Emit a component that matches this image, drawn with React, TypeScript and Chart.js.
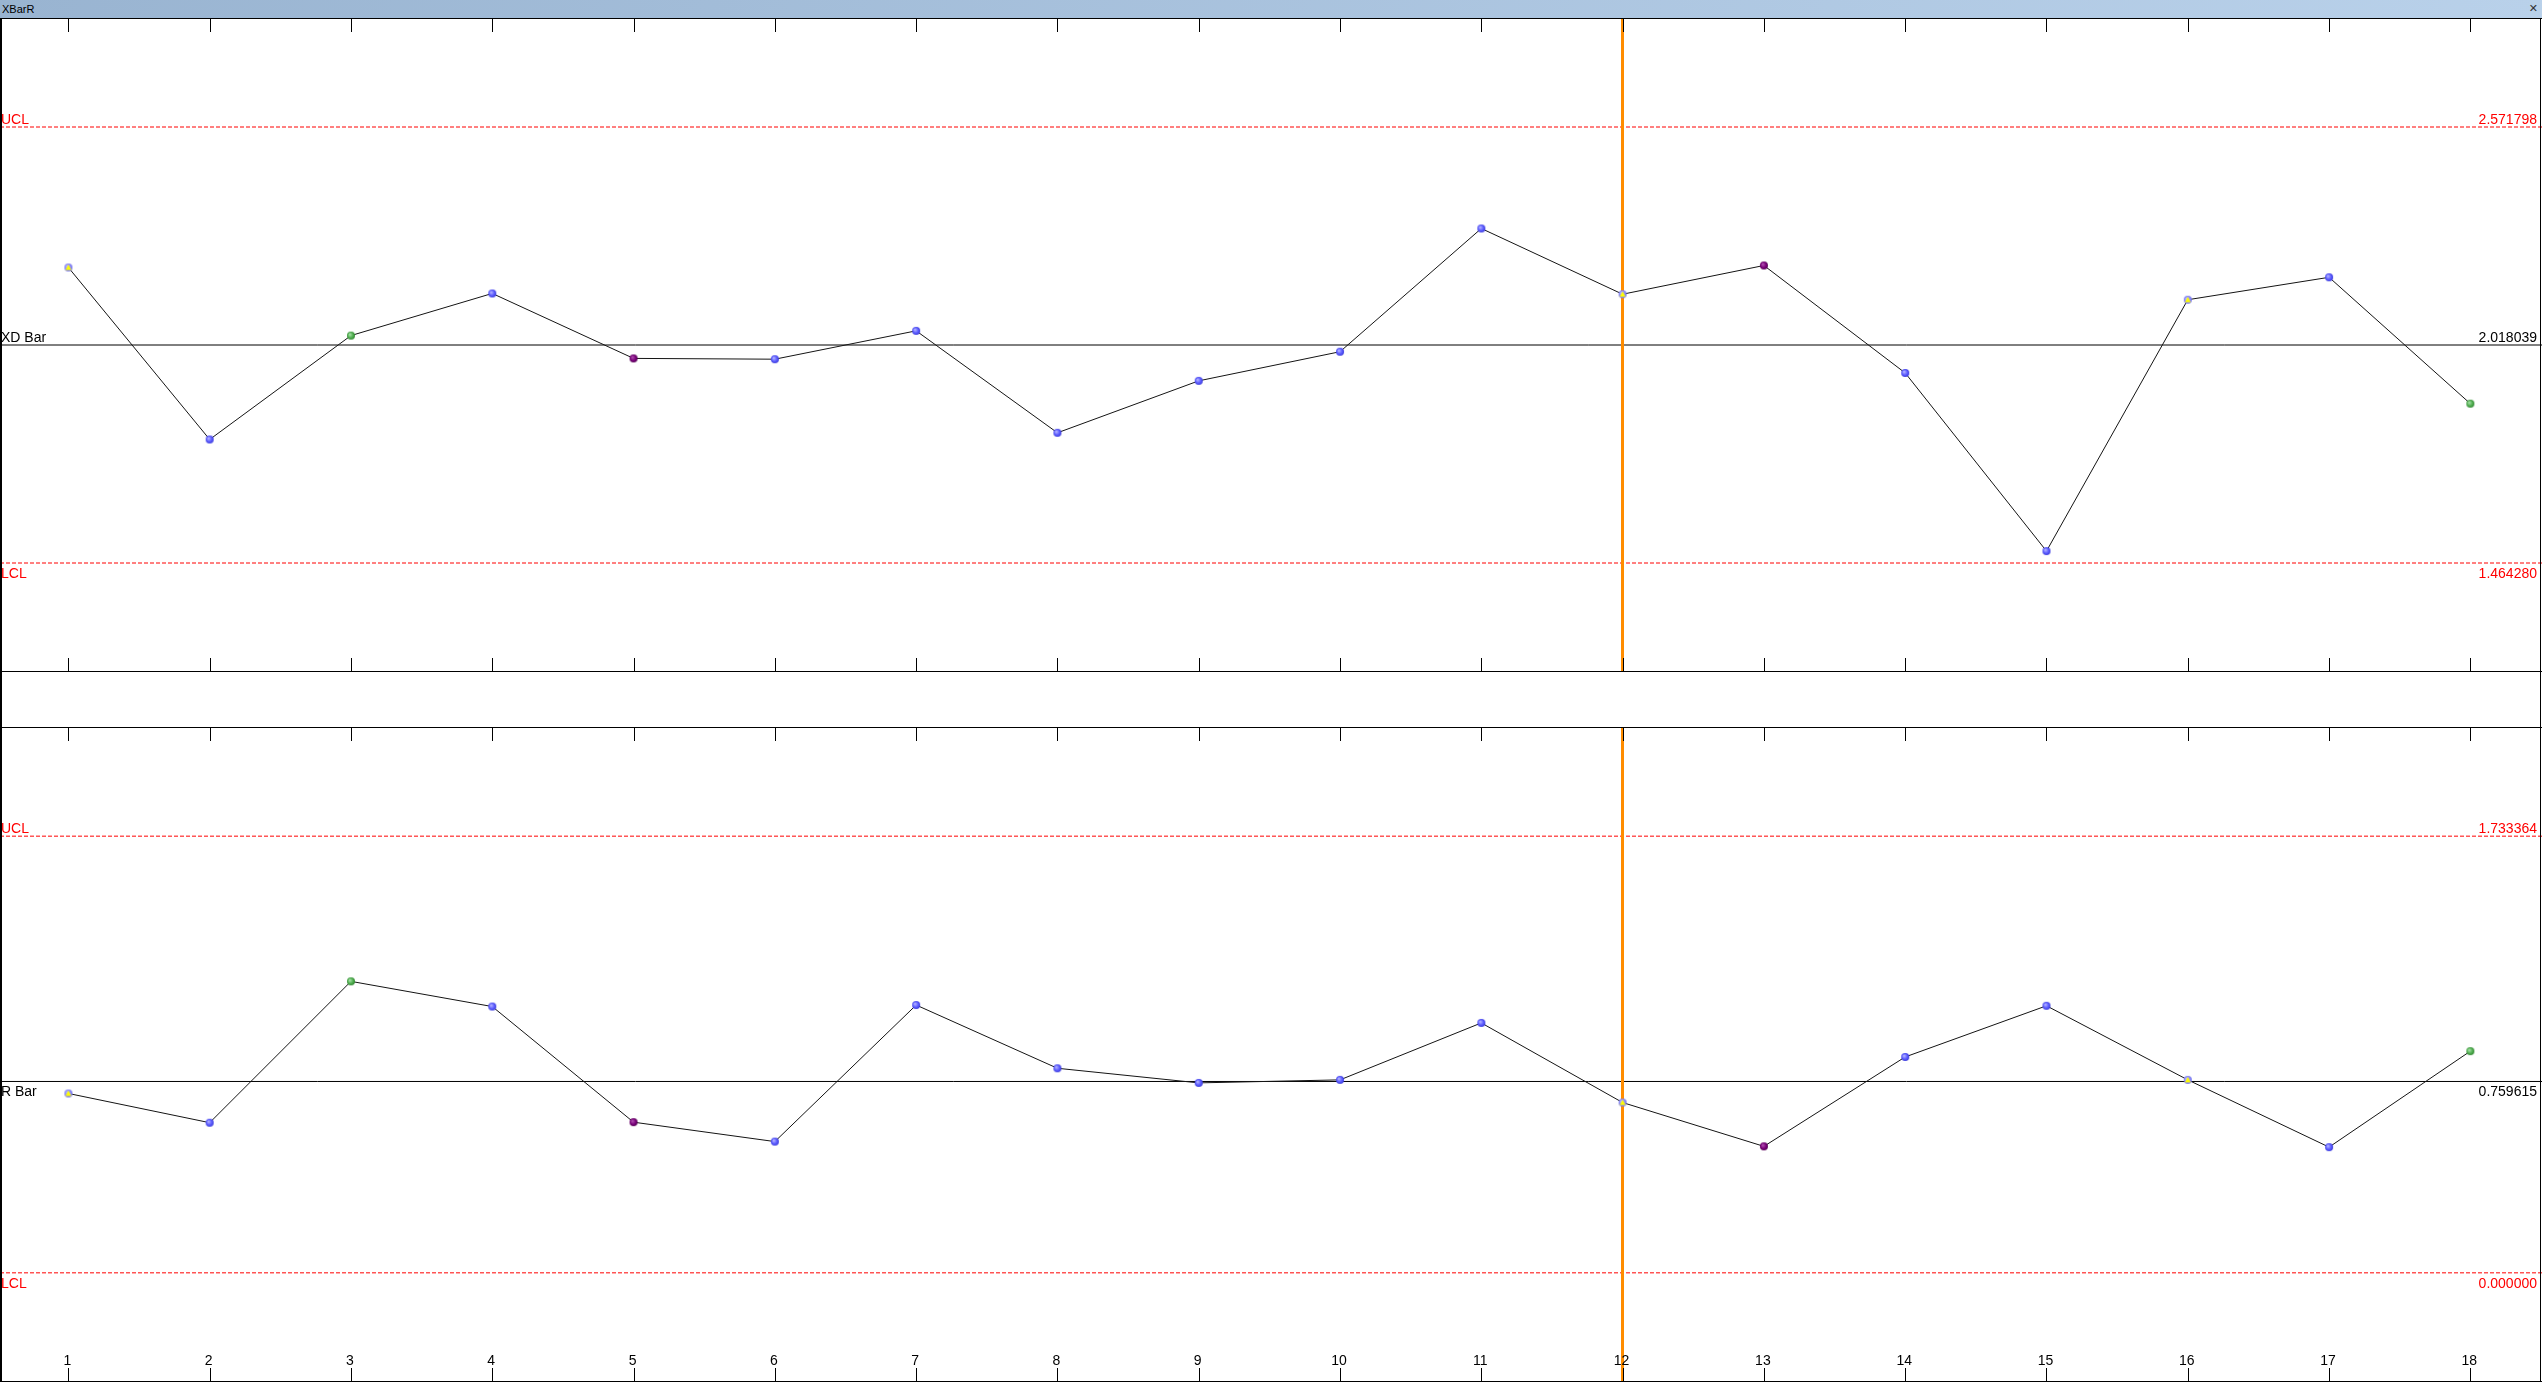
import React, { useEffect, useRef } from 'react';
import { Chart, registerables } from 'chart.js';

Chart.register(...registerables);

// ---------- data ----------
const subgroups = [1, 2, 3, 4, 5, 6, 7, 8, 9, 10, 11, 12, 13, 14, 15, 16, 17, 18];
const xbarValues = [2.215, 1.778, 2.042, 2.149, 1.984, 1.982, 2.054, 1.795, 1.927, 2.001, 2.314, 2.147, 2.220, 1.947, 1.4945, 2.133, 2.190, 1.869];
const rangeValues = [0.712, 0.596, 1.157, 1.057, 0.598, 0.521, 1.063, 0.812, 0.754, 0.766, 0.992, 0.676, 0.502, 0.857, 1.060, 0.766, 0.499, 0.880];
const xbarMarkers = ['flag', 'blue', 'green', 'blue', 'purple', 'blue', 'blue', 'blue', 'blue', 'blue', 'blue', 'flag', 'purple', 'blue', 'blue', 'flag', 'blue', 'green'];
const rangeMarkers = ['flag', 'blue', 'green', 'blue', 'purple', 'blue', 'blue', 'blue', 'blue', 'blue', 'blue', 'flag', 'purple', 'blue', 'blue', 'flag', 'blue', 'green'];
const xbarLimits = [2.571798, 2.018039, 1.46428]; // UCL, CL, LCL
const rangeLimits = [1.733364, 0.759615, 0.0];
const xbarLimitNames = ['UCL', 'XD Bar', 'LCL'];
const rangeLimitNames = ['UCL', 'R Bar', 'LCL'];
const xbarLabelSides = ['above', 'above', 'below'];
const rangeLabelSides = ['above', 'below', 'below'];
const highlightSubgroup = 12;
const windowTitle = 'XBarR';

const X_MIN = 0.516;
const X_MAX = 18.507;
const W = 2542;
const FONT = '14px "Liberation Sans", Arial, sans-serif';

function makeMarker(kind: string): HTMLCanvasElement {
  const c = document.createElement('canvas');
  c.width = 10;
  c.height = 10;
  const ctx = c.getContext('2d')!;
  const colors: Record<string, string[]> = {
    blue: ['#b4b4ff', '#5a5aff', '#3535d0'],
    green: ['#a8e0a8', '#4fae4f', '#2f7f2f'],
    purple: ['#b050b0', '#7a007a', '#4a004a'],
    flag: ['#c0c0ff', '#8c8cff', '#6a6ae0'],
  };
  const [hi, mid, lo] = colors[kind] || colors.blue;
  const g = ctx.createRadialGradient(3.8, 3.8, 0.3, 5, 5, 4.6);
  g.addColorStop(0, hi);
  g.addColorStop(0.55, mid);
  g.addColorStop(1, lo);
  ctx.fillStyle = g;
  ctx.beginPath();
  ctx.arc(5, 5, 4, 0, Math.PI * 2);
  ctx.fill();
  if (kind === 'flag') {
    ctx.fillStyle = '#ffff00';
    ctx.beginPath();
    ctx.moveTo(5, 2);
    ctx.lineTo(8, 7.6);
    ctx.lineTo(2, 7.6);
    ctx.closePath();
    ctx.fill();
  }
  return c;
}

type PanelProps = {
  values: number[];
  markers: string[];
  limits: number[];
  names: string[];
  sides: string[];
  height: number;
  showXLabels: boolean;
};

function Panel({ values, markers, limits, names, sides, height, showXLabels }: PanelProps) {
  const ref = useRef<HTMLCanvasElement | null>(null);

  useEffect(() => {
    if (!ref.current) return;
    const [ucl, , lcl] = limits;
    const mid = (ucl + lcl) / 2;
    const half = 0.75 * (ucl - lcl);
    const yMax = mid + half;
    const yMin = mid - half;
    const markerImgs = markers.map(makeMarker);

    const overlay = {
      id: 'spcOverlay',
      beforeDatasetDraw(chart: any, args: any) {
        if (args.index !== 0) return;
        const ctx = chart.ctx;
        const x = Math.floor(chart.scales.x.getPixelForValue(highlightSubgroup));
        ctx.save();
        ctx.fillStyle = '#ff8c00';
        ctx.fillRect(x - 1, 0, 3, chart.height);
        ctx.restore();
      },
      afterDraw(chart: any) {
        const ctx = chart.ctx;
        const h = chart.height;
        const xs = chart.scales.x;
        const ys = chart.scales.y;
        ctx.save();
        // borders
        ctx.fillStyle = '#000';
        ctx.fillRect(0, 0, 2, h);
        ctx.fillRect(2540, 0, 1, h);
        ctx.fillRect(0, 0, W, 1);
        ctx.fillRect(0, h - 1, W, 1);
        // ticks
        subgroups.forEach((s) => {
          const x = Math.round(xs.getPixelForValue(s));
          ctx.fillRect(x, 0, 1, 14);
          ctx.fillRect(x, h - 14, 1, 14);
        });
        // x labels
        if (showXLabels) {
          ctx.font = FONT;
          ctx.textAlign = 'center';
          ctx.textBaseline = 'alphabetic';
          subgroups.forEach((s) => {
            const x = xs.getPixelForValue(s);
            ctx.fillText(String(s), x - 1, h - 17);
          });
        }
        // limit labels
        ctx.font = FONT;
        ctx.textBaseline = 'alphabetic';
        limits.forEach((v, i) => {
          const y = ys.getPixelForValue(v);
          const base = sides[i] === 'above' ? y - 3 : y + 15;
          ctx.fillStyle = i === 1 ? '#000' : '#ff0000';
          ctx.textAlign = 'left';
          ctx.fillText(names[i], 1, base);
          ctx.textAlign = 'right';
          ctx.fillText(v.toFixed(6), 2537, base);
        });
        ctx.restore();
      },
    };

    const limitDataset = (v: number, i: number) => ({
      data: [
        { x: X_MIN, y: v },
        { x: X_MAX, y: v },
      ],
      borderColor: i === 1 ? '#000000' : '#ff0000',
      borderWidth: 1,
      borderDash: i === 1 ? [] : [4, 2],
      pointRadius: 0,
      fill: false,
    });

    const chart = new Chart(ref.current, {
      type: 'line',
      data: {
        datasets: [
          {
            data: subgroups.map((s, i) => ({ x: s, y: values[i] })),
            borderColor: '#141414',
            borderWidth: 1,
            pointStyle: markerImgs as any,
            pointRadius: 4,
            fill: false,
            tension: 0,
            clip: false as any,
          },
          ...limits.map(limitDataset),
        ],
      },
      options: {
        animation: false,
        responsive: false,
        maintainAspectRatio: false,
        devicePixelRatio: 1,
        layout: { padding: 0, autoPadding: false },
        plugins: { legend: { display: false }, tooltip: { enabled: false }, title: { display: false } },
        events: [],
        scales: {
          x: { type: 'linear', min: X_MIN, max: X_MAX, display: false },
          y: { type: 'linear', min: yMin, max: yMax, display: false },
        },
      },
      plugins: [overlay],
    } as any);

    return () => chart.destroy();
  }, [values, markers, limits, names, sides, height, showXLabels]);

  return <canvas ref={ref} width={W} height={height} style={{ display: 'block', width: W, height }} />;
}

export default function App() {
  useEffect(() => {
    document.body.style.margin = '0';
    document.body.style.overflow = 'hidden';
  }, []);

  return (
    <div style={{ position: 'absolute', left: 0, top: 0, width: W, height: 1382, background: '#fff', overflow: 'hidden' }}>
      <div
        style={{
          height: 18,
          width: W,
          background: 'linear-gradient(to right, #99b4d1, #b9d1ea)',
          position: 'relative',
          fontFamily: '"Liberation Sans", Arial, sans-serif',
          fontSize: 11,
          lineHeight: '18px',
          color: '#000',
        }}
      >
        <span style={{ position: 'absolute', left: 2, top: 0 }}>{windowTitle}</span>
        <span
          style={{
            position: 'absolute',
            right: 4,
            top: 0,
            fontFamily: '"DejaVu Sans", sans-serif',
            fontWeight: 'bold',
            fontSize: 11,
            color: '#333',
          }}
        >
          ✕
        </span>
      </div>
      <Panel
        values={xbarValues}
        markers={xbarMarkers}
        limits={xbarLimits}
        names={xbarLimitNames}
        sides={xbarLabelSides}
        height={654}
        showXLabels={false}
      />
      <div style={{ height: 55, width: W, position: 'relative' }}>
        <div style={{ position: 'absolute', left: 0, top: 0, width: 2, height: 55, background: '#000' }} />
        <div style={{ position: 'absolute', left: 2540, top: 0, width: 1, height: 55, background: '#000' }} />
      </div>
      <Panel
        values={rangeValues}
        markers={rangeMarkers}
        limits={rangeLimits}
        names={rangeLimitNames}
        sides={rangeLabelSides}
        height={655}
        showXLabels={true}
      />
    </div>
  );
}
